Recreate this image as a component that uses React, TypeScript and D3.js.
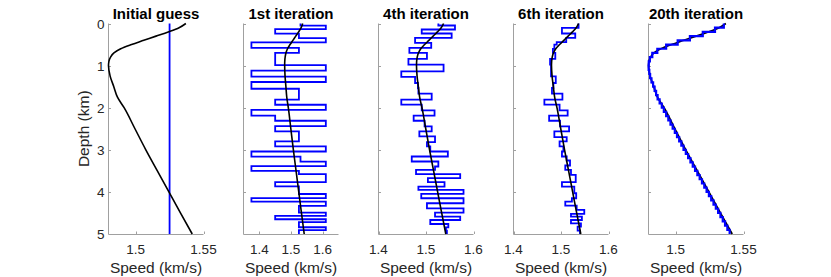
import React from 'react';
import * as d3 from 'd3';

// true model (black curve), depth in km / speed in km/s
const trueDepth = [0, 0.1, 0.2, 0.3, 0.4, 0.5, 0.6, 0.7, 0.8, 0.9, 1.0, 1.25, 1.5, 1.75, 2.0, 2.5, 3.0, 3.5, 4.0, 4.5, 5.0];
const trueSpeed = [1.537, 1.532, 1.524, 1.515, 1.506, 1.497, 1.489, 1.484, 1.4815, 1.4803, 1.48, 1.4812, 1.4839, 1.4866, 1.4915, 1.4995, 1.5075, 1.516, 1.5245, 1.533, 1.5417];

// initial guess (constant)
const guessTop = [0];
const guessSpeed = [1.525];

// 1st iteration layers
const iter1Top = [0, 0.05, 0.135, 0.24, 0.345, 0.45, 0.58, 0.7, 0.99, 1.12, 1.26, 1.39, 1.55, 1.81, 1.93, 2.05, 2.19, 2.31, 2.44, 2.56,
  2.8, 2.92, 3.04, 3.16, 3.28, 3.39, 3.5, 3.58, 3.77, 3.87, 4.05, 4.15, 4.23, 4.33, 4.49, 4.57, 4.65, 4.72, 4.84, 4.91];
const iter1Speed = [1.53, 1.61, 1.45, 1.525, 1.61, 1.375, 1.525, 1.45, 1.61, 1.375, 1.61, 1.375, 1.525, 1.45, 1.61, 1.375, 1.45, 1.61, 1.45, 1.525,
  1.45, 1.61, 1.375, 1.53, 1.61, 1.375, 1.525, 1.61, 1.45, 1.525, 1.61, 1.375, 1.61, 1.525, 1.61, 1.45, 1.61, 1.525, 1.61, 1.525];

// 4th iteration layers
const iter4Top = [0, 0.048, 0.143, 0.238, 0.341, 0.46, 0.579, 0.698, 0.841, 0.976, 1.135, 1.27, 1.413, 1.532, 1.667, 1.81, 1.929, 2.063, 2.19, 2.31,
  2.444, 2.563, 2.683, 2.817, 2.921, 3.04, 3.159, 3.278, 3.397, 3.476, 3.579, 3.675, 3.77, 3.873, 3.952, 4.048, 4.151, 4.27, 4.389, 4.492,
  4.587, 4.667, 4.762, 4.841, 4.921];
const iter4Speed = [1.526, 1.561, 1.491, 1.554, 1.477, 1.511, 1.465, 1.502, 1.463, 1.537, 1.448, 1.477, 1.483, 1.484, 1.512, 1.448, 1.491, 1.518, 1.474, 1.497,
  1.512, 1.486, 1.519, 1.502, 1.509, 1.546, 1.47, 1.526, 1.519, 1.479, 1.572, 1.504, 1.539, 1.484, 1.579, 1.49, 1.579, 1.502, 1.579, 1.519,
  1.572, 1.509, 1.547, 1.542, 1.544];

// 6th iteration layers
const iter6Top = [0, 0.103, 0.238, 0.341, 0.444, 0.5, 0.603, 0.698, 0.841, 0.976, 1.254, 1.413, 1.532, 1.667, 1.81, 1.929, 2.063, 2.19, 2.31, 2.444,
  2.563, 2.698, 2.802, 2.921, 3.04, 3.159, 3.254, 3.373, 3.476, 3.595, 3.77, 3.873, 4.032, 4.151, 4.23, 4.325, 4.429, 4.524, 4.587, 4.667,
  4.746, 4.825, 4.921];
const iter6Speed = [1.537, 1.502, 1.53, 1.511, 1.491, 1.486, 1.483, 1.488, 1.477, 1.479, 1.489, 1.484, 1.481, 1.503, 1.465, 1.497, 1.514, 1.475, 1.498, 1.517,
  1.486, 1.512, 1.497, 1.505, 1.502, 1.512, 1.519, 1.509, 1.521, 1.531, 1.502, 1.528, 1.532, 1.523, 1.509, 1.533, 1.549, 1.521, 1.544, 1.521,
  1.542, 1.535, 1.54];

// 20th iteration layers (0.1 km)
const iter20Top = [0, 0.1, 0.2, 0.3, 0.4, 0.5, 0.6, 0.7, 0.8, 0.9, 1.0, 1.1, 1.2, 1.3, 1.4, 1.5, 1.6, 1.7, 1.8, 1.9,
  2.0, 2.1, 2.2, 2.3, 2.4, 2.5, 2.6, 2.7, 2.8, 2.9, 3.0, 3.1, 3.2, 3.3, 3.4, 3.5, 3.6, 3.7, 3.8, 3.9,
  4.0, 4.1, 4.2, 4.3, 4.4, 4.5, 4.6, 4.7, 4.8, 4.9];
const iter20Speed = [1.5355, 1.529, 1.52, 1.5105, 1.5015, 1.493, 1.4865, 1.4828, 1.481, 1.4802, 1.4801, 1.4806, 1.4812, 1.4822, 1.4834, 1.4845, 1.4856, 1.4867, 1.4882, 1.4898,
  1.4913, 1.493, 1.4946, 1.4962, 1.4978, 1.4994, 1.501, 1.5026, 1.5042, 1.5058, 1.5075, 1.5092, 1.5109, 1.5126, 1.5143, 1.516, 1.5177, 1.5194, 1.5211, 1.5228,
  1.5245, 1.5262, 1.5279, 1.5296, 1.5313, 1.533, 1.5347, 1.5364, 1.5381, 1.5398];

const titles = ['Initial guess', '1st iteration', '4th iteration', '6th iteration', '20th iteration'];
const xDomains: [number, number][] = [[1.48, 1.55], [1.35, 1.65], [1.4, 1.6], [1.4, 1.6], [1.48, 1.55]];
const xTicks = [[1.5, 1.55], [1.4, 1.5, 1.6], [1.4, 1.5, 1.6], [1.4, 1.5, 1.6], [1.5, 1.55]];
const depthTicks = [0, 1, 2, 3, 4, 5];
const modelTops = [guessTop, iter1Top, iter4Top, iter6Top, iter20Top];
const modelSpeeds = [guessSpeed, iter1Speed, iter4Speed, iter6Speed, iter20Speed];

const W = 831;
const H = 277;
const FONT = "'Liberation Sans', Arial, Helvetica, sans-serif";
const AXIS = '#a0a0a0';
const TEXT = '#262626';

type Pt = [number, number];

function Panel({ i }: { i: number }) {
  const left = 108.5 + 135 * i;
  const width = 95;
  const x = d3.scaleLinear().domain(xDomains[i]).range([left, left + width]);
  const y = d3.scaleLinear().domain([0, 5]).range([23.5, 234]);

  const trueLine = d3.line<Pt>()
    .x(d => x(d[0]))
    .y(d => y(d[1]))
    .curve(d3.curveMonotoneY);
  const truePts: Pt[] = trueDepth.map((d, k) => [trueSpeed[k], d]);

  const tops = modelTops[i];
  const speeds = modelSpeeds[i];
  const stairPts: Pt[] = tops.map((t, k) => [speeds[k], t] as Pt);
  stairPts.push([speeds[speeds.length - 1], 5]);
  const stairLine = d3.line<Pt>()
    .x(d => x(d[0]))
    .y(d => y(d[1]))
    .curve(d3.curveStepBefore);

  const black = <path d={trueLine(truePts) || ''} fill="none" stroke="#000" strokeWidth={1.6} />;
  const blue = <path d={stairLine(stairPts) || ''} fill="none" stroke="#0000ff" strokeWidth={i === 4 ? 2.2 : 1.8} strokeLinejoin="miter" />;
  const y0 = y(5);

  return (
    <g>
      {/* axes */}
      <line x1={left} x2={left} y1={y(0)} y2={y0} stroke={AXIS} />
      <line x1={left} x2={left + width} y1={y0 + 0.5} y2={y0 + 0.5} stroke={AXIS} />
      {xTicks[i].map(t => (
        <g key={t}>
          <line x1={Math.round(x(t)) + 0.5} x2={Math.round(x(t)) + 0.5} y1={y0} y2={y0 - 2.5} stroke={AXIS} />
          <text x={x(t)} y={y0 + 19.5} textAnchor="middle" fontSize={13.5} fill={TEXT}>{t}</text>
        </g>
      ))}
      {depthTicks.map(t => (
        <line key={t} x1={left} x2={left + 2.5} y1={Math.round(y(t)) + 0.5} y2={Math.round(y(t)) + 0.5} stroke={AXIS} />
      ))}
      {i === 0 && depthTicks.map(t => (
        <text key={t} x={left - 4} y={y(t) + 5} textAnchor="end" fontSize={13.5} fill={TEXT}>{t}</text>
      ))}
      {i === 0 && (
        <text transform={`translate(${left - 19.5},${(y(0) + y0) / 2}) rotate(-90)`} textAnchor="middle" fontSize={15.5} fill={TEXT}>Depth (km)</text>
      )}
      <text x={left + width / 2} y={y0 + 38.5} textAnchor="middle" fontSize={15.5} fill={TEXT}>Speed (km/s)</text>
      <text x={left + width / 2} y={19} textAnchor="middle" fontSize={15} fontWeight="bold" fill="#000">{titles[i]}</text>
      {i === 4 ? <>{black}{blue}</> : <>{blue}{black}</>}
    </g>
  );
}

export default function App() {
  return (
    <svg width={W} height={H} style={{ position: 'absolute', left: 0, top: 0, background: '#fff' }} fontFamily={FONT}>
      {titles.map((_, i) => <Panel key={i} i={i} />)}
    </svg>
  );
}
